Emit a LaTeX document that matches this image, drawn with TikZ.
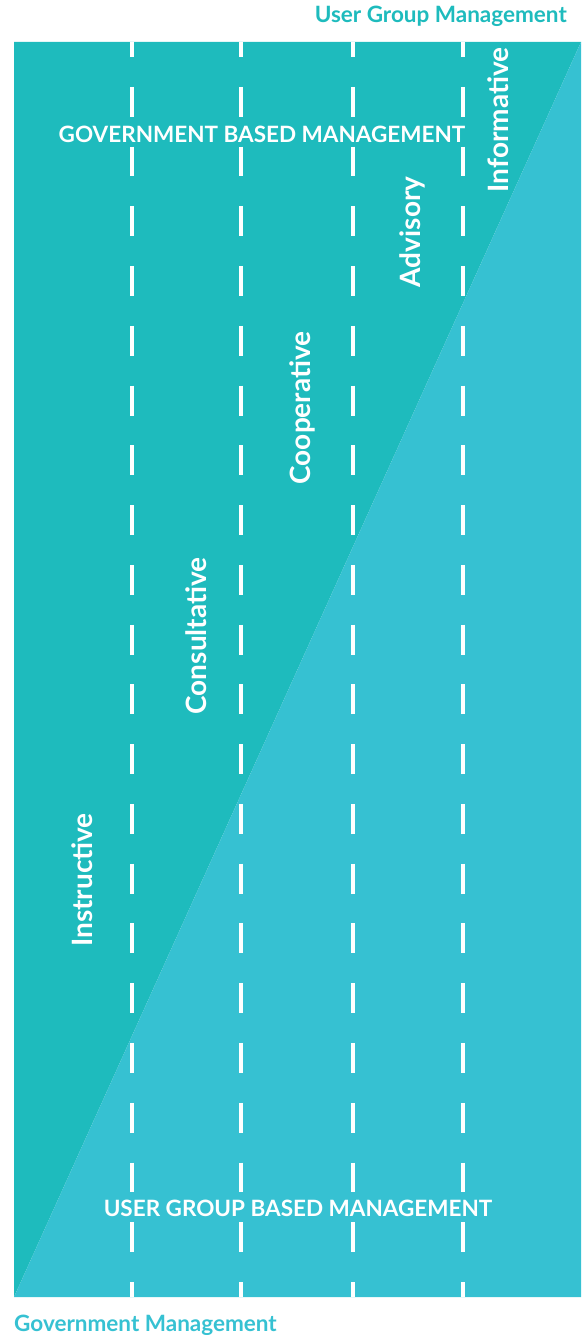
\documentclass[tikz,border=0pt]{standalone}
\usepackage{fontspec}
\setmainfont{Lato}
\definecolor{darkteal}{HTML}{1EBBBD}
\definecolor{lightcyan}{HTML}{36C1D2}
\begin{document}
\begin{tikzpicture}[x=1pt,y=-1pt,
  lbl/.style={text=white,font=\fontsize{22.5}{26}\selectfont\bfseries,inner sep=0pt},
  vlbl/.style={text=white,font=\fontsize{28}{32}\selectfont\bfseries,inner sep=0pt,rotate=90},
  title/.style={font=\fontsize{22.5}{26}\selectfont\bfseries,inner sep=0pt},
  lane/.style={draw=white,line width=4.5pt,dash pattern=on 29.88pt off 29.88pt,dash phase=14.94pt}]
\useasboundingbox (0,0) rectangle (581,1335);
\coordinate (tl) at (14,42);
\coordinate (tr) at (581,42);
\coordinate (bl) at (14,1297);
\coordinate (br) at (581,1297);
\fill[darkteal] (tl) -- (tr) -- (bl) -- cycle;
\fill[lightcyan] (tr) -- (br) -- (bl) -- cycle;
\foreach \x [count=\i] in {132,241,353,463}{
  \coordinate (t\i) at (\x,42);
  \coordinate (b\i) at (\x,1297);
  \draw[lane] (t\i) -- (b\i);
}
\node[title,text=darkteal,anchor=base east] (ugm) at (567,23) {User Group Management};
\node[title,text=lightcyan,anchor=base west] (gm) at (14,1331) {Government Management};
\node[lbl] (gbm) at (262,134) {GOVERNMENT BASED MANAGEMENT};
\node[lbl] (ugbm) at (298,1208) {USER GROUP BASED MANAGEMENT};
\node[vlbl] (ins) at (82,880) {Instructive};
\node[vlbl] (con) at (196,636) {Consultative};
\node[vlbl] (coo) at (302,408) {Cooperative};
\node[vlbl] (adv) at (412,232) {Advisory};
\node[vlbl] (inf) at (498,120) {Informative};
\end{tikzpicture}
\end{document}
